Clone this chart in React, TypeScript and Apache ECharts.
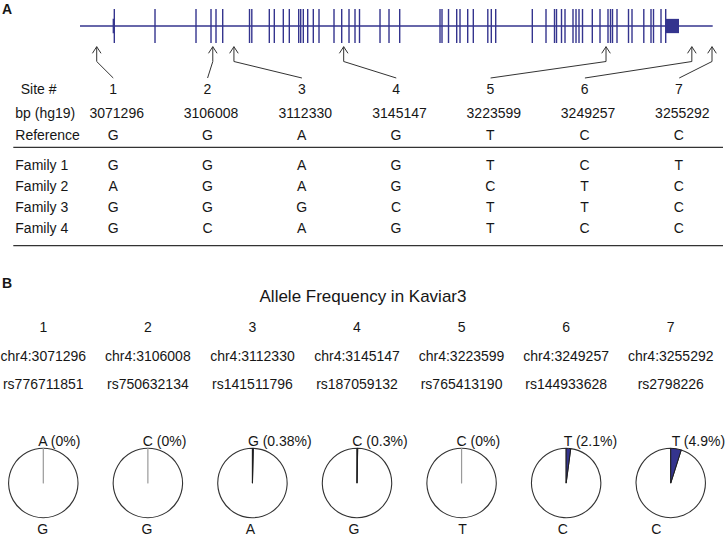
import React, { useEffect, useRef } from "react";
import * as echarts from "echarts";

// ---------------- DATA ----------------
const siteNumbers = ["1", "2", "3", "4", "5", "6", "7"];
const sitePositions = [3071296, 3106008, 3112330, 3145147, 3223599, 3249257, 3255292];
const referenceAlleles = ["G", "G", "A", "G", "T", "C", "C"];
const familyLabels = ["Family 1", "Family 2", "Family 3", "Family 4"];
const family1 = ["G", "G", "A", "G", "T", "C", "T"];
const family2 = ["A", "G", "A", "G", "C", "T", "C"];
const family3 = ["G", "G", "G", "C", "T", "T", "C"];
const family4 = ["G", "C", "A", "G", "T", "C", "C"];
const rsIds = ["rs776711851", "rs750632134", "rs141511796", "rs187059132", "rs765413190", "rs144933628", "rs2798226"];
const minorAlleles = ["A", "C", "G", "C", "C", "T", "T"];
const majorAlleles = ["G", "G", "A", "G", "T", "C", "C"];
const minorPct = [0, 0, 0.38, 0.3, 0, 2.1, 4.9];

// gene model (hg19 bp)
const geneSpan = [3066302, 3255498];
const utr5 = [3076060, 3076460];
const utr3 = [3241534, 3245421];
const exonCenters = [
  3076559, 3088729, 3100990, 3105475, 3106970, 3108974, 3116988, 3117675, 3122909, 3124404,
  3127095, 3128889, 3131700, 3132298, 3133076, 3134391, 3136066, 3137770, 3142256, 3144558,
  3146741, 3148535, 3149881, 3156011, 3158702, 3161902, 3173953, 3174551, 3176495, 3178947,
  3179934, 3182236, 3183911, 3188247, 3189293, 3190609, 3201553, 3205650, 3208192, 3208790,
  3210285, 3211332, 3213724, 3214621, 3215518, 3216565, 3219495, 3221798, 3224190, 3224938,
  3225536, 3226881, 3230320, 3231367, 3234895, 3237048, 3237796, 3240039, 3241444,
];

// ---------------- LAYOUT ----------------
const W = 726;
const H = 540;
const FONT_FAMILY = '"Liberation Sans", Arial, Helvetica, sans-serif';
const FONT = `14px ${FONT_FAMILY}`;
const TEXT_COLOR = "#161616";
const GENE_COLOR = "#34348e";
const LINE_COLOR = "#333333";
const GENE = { left: 79, width: 642.07, top: 9, height: 34, min: 3066000, max: 3258000 };
const TABLE = { left: 66.1, width: 660.3 };
const rowY = [89, 113.3, 135, 165, 186, 207, 228.3];
const ARROW = { tipY: 46.7, elbowY: 61.5, endY: 78, headW: 4.3, headH: 6.6 };
const PIE = { x0: 43.3, step: 104.57, cy: 483, r: 34.7 };
const B_ROWS = { title: 296.5, num: 327, chr: 355.5, rs: 384, top: 441, bottom: 528.5 };
const bottomNudge = [-0.6, -1, -2, -3, 1, -3.3, -14.5];
// value axis for part B so that index i lands on the pie centre
const B_MIN = -PIE.x0 / PIE.step;
const B_MAX = B_MIN + W / PIE.step;

const pieCx = (i: number) => PIE.x0 + PIE.step * i;

export default function App() {
  const ref = useRef<HTMLDivElement>(null);

  useEffect(() => {
    if (!ref.current) return;
    const chart = echarts.init(ref.current, undefined, { renderer: "svg", width: W, height: H });

    const tableRows: string[][] = [
      siteNumbers,
      sitePositions.map((p) => String(p)),
      referenceAlleles,
      family1,
      family2,
      family3,
      family4,
    ];
    const tableData: number[][] = [];
    tableRows.forEach((row, r) => row.forEach((_, i) => tableData.push([i, 0.5, r])));

    // B text rows: 0 number, 1 chr, 2 rs, 3 top label, 4 bottom label
    const bData: number[][] = [];
    for (let r = 0; r < 5; r++) siteNumbers.forEach((_, i) => bData.push([i, 0.5, r]));

    const textEl = (text: string, x: number, y: number, align = "center", font = FONT) => ({
      type: "text",
      style: {
        text,
        x,
        y,
        align,
        textAlign: align,
        verticalAlign: "middle",
        textVerticalAlign: "middle",
        font,
        fill: TEXT_COLOR,
      },
    });

    const pies = siteNumbers.map((_, i) => {
      const v = minorPct[i];
      return {
        type: "pie",
        silent: true,
        center: [pieCx(i), PIE.cy],
        radius: PIE.r,
        startAngle: 90,
        clockwise: false,
        label: { show: false },
        labelLine: { show: false },
        emphasis: { disabled: true },
        data: [
          {
            value: 100 - v,
            name: majorAlleles[i],
            itemStyle: { color: "#ffffff", borderColor: "#333333", borderWidth: 1.1 },
          },
          {
            value: v,
            name: minorAlleles[i],
            itemStyle: {
              color: GENE_COLOR,
              borderColor: v === 0 ? "#9a9a9a" : "#1e1e1e",
              borderWidth: v === 0 ? 1.2 : 1,
            },
          },
        ],
      };
    });

    const option: any = {
      animation: false,
      backgroundColor: "#ffffff",
      grid: [
        { left: GENE.left, width: GENE.width, top: GENE.top, height: GENE.height },
        { left: TABLE.left, width: TABLE.width, top: 80, height: 170 },
        { left: 0, width: W, top: 300, height: 100 },
      ],
      xAxis: [
        { gridIndex: 0, type: "value", min: GENE.min, max: GENE.max, show: false },
        { gridIndex: 1, type: "category", data: siteNumbers, show: false },
        { gridIndex: 2, type: "value", min: B_MIN, max: B_MAX, show: false },
      ],
      yAxis: [
        { gridIndex: 0, type: "value", min: 0, max: 1, show: false },
        { gridIndex: 1, type: "value", min: 0, max: 1, show: false },
        { gridIndex: 2, type: "value", min: 0, max: 1, show: false },
      ],
      graphic: [
        textEl("A", 2, 9, "left", `bold 14px ${FONT_FAMILY}`),
        textEl("B", 2, 283, "left", `bold 14px ${FONT_FAMILY}`),
        textEl("Site #", 20.7, rowY[0], "left"),
        textEl("bp (hg19)", 15.3, rowY[1], "left"),
        textEl("Reference", 15.3, rowY[2], "left"),
        ...familyLabels.map((l, k) => textEl(l, 15.3, rowY[3 + k], "left")),
        {
          type: "line",
          shape: { x1: 13.3, y1: 147.3, x2: 723, y2: 147.3 },
          style: { stroke: LINE_COLOR, lineWidth: 1.2 },
        },
        {
          type: "line",
          shape: { x1: 13.3, y1: 245.7, x2: 723, y2: 245.7 },
          style: { stroke: LINE_COLOR, lineWidth: 1.2 },
        },
        textEl("Allele Frequency in Kaviar3", W / 2, B_ROWS.title, "center", `17px ${FONT_FAMILY}`),
      ],
      series: [
        {
          type: "line",
          xAxisIndex: 0,
          yAxisIndex: 0,
          silent: true,
          symbol: "none",
          data: [
            [geneSpan[0], 0.5],
            [geneSpan[1], 0.5],
          ],
          lineStyle: { color: GENE_COLOR, width: 1.3 },
        },
        {
          type: "custom",
          xAxisIndex: 0,
          yAxisIndex: 0,
          silent: true,
          clip: false,
          data: exonCenters.map((c) => [c, 0.5]),
          renderItem: (_p: any, api: any) => {
            const x = api.coord([api.value(0), 0])[0];
            const top = api.coord([GENE.min, 1])[1];
            const bot = api.coord([GENE.min, 0])[1];
            return {
              type: "rect",
              shape: { x: x - 0.7, y: top, width: 1.4, height: bot - top },
              style: { fill: GENE_COLOR },
            };
          },
        },
        {
          type: "custom",
          xAxisIndex: 0,
          yAxisIndex: 0,
          silent: true,
          clip: false,
          data: [utr5, utr3],
          renderItem: (_p: any, api: any) => {
            const x1 = api.coord([api.value(0), 0.71])[0];
            const x2 = api.coord([api.value(1), 0.29])[0];
            const y1 = api.coord([GENE.min, 0.71])[1];
            const y2 = api.coord([GENE.min, 0.29])[1];
            return {
              type: "rect",
              shape: { x: x1, y: y1, width: Math.max(x2 - x1, 1.3), height: y2 - y1 },
              style: { fill: GENE_COLOR },
            };
          },
        },
        {
          type: "custom",
          xAxisIndex: 0,
          yAxisIndex: 0,
          silent: true,
          clip: false,
          data: sitePositions.map((p) => [p, 0.5]),
          renderItem: (params: any, api: any) => {
            const i = params.dataIndex;
            const xt = api.coord([api.value(0), 0])[0];
            const xc = TABLE.left + ((i + 0.5) * TABLE.width) / siteNumbers.length;
            const st = { stroke: LINE_COLOR, lineWidth: 1, fill: "none" };
            return {
              type: "group",
              children: [
                {
                  type: "polyline",
                  shape: { points: [[xt, ARROW.tipY], [xt, ARROW.elbowY], [xc, ARROW.endY]] },
                  style: st,
                },
                {
                  type: "polyline",
                  shape: {
                    points: [
                      [xt - ARROW.headW, ARROW.tipY + ARROW.headH],
                      [xt, ARROW.tipY],
                      [xt + ARROW.headW, ARROW.tipY + ARROW.headH],
                    ],
                  },
                  style: st,
                },
              ],
            };
          },
        },
        {
          type: "custom",
          xAxisIndex: 1,
          yAxisIndex: 1,
          silent: true,
          clip: false,
          data: tableData,
          renderItem: (_p: any, api: any) => {
            const i = api.value(0);
            const r = api.value(2);
            let x = api.coord([i, 0.5])[0];
            if (r === 1) x += 3.5;
            return textEl(tableRows[r][i], x, rowY[r]);
          },
        },
        {
          type: "custom",
          xAxisIndex: 2,
          yAxisIndex: 2,
          silent: true,
          clip: false,
          data: bData,
          renderItem: (_p: any, api: any) => {
            const i = api.value(0);
            const r = api.value(2);
            const x = api.coord([i, 0.5])[0];
            if (r === 0) return textEl(siteNumbers[i], x, B_ROWS.num);
            if (r === 1) return textEl(`chr4:${sitePositions[i]}`, x, B_ROWS.chr);
            if (r === 2) return textEl(rsIds[i], x, B_ROWS.rs);
            if (r === 3) {
              const mid = ((minorPct[i] / 100) * Math.PI * 2) / 2;
              const lx = x + (PIE.r + 4) * Math.sin(mid) - 5;
              return textEl(`${minorAlleles[i]} (${minorPct[i]}%)`, lx, B_ROWS.top, "left");
            }
            return textEl(majorAlleles[i], x + bottomNudge[i], B_ROWS.bottom);
          },
        },
        ...pies,
      ],
    };

    chart.setOption(option);
    return () => chart.dispose();
  }, []);

  return (
    <div
      ref={ref}
      style={{ position: "fixed", left: 0, top: 0, width: W, height: H, background: "#fff" }}
    />
  );
}
